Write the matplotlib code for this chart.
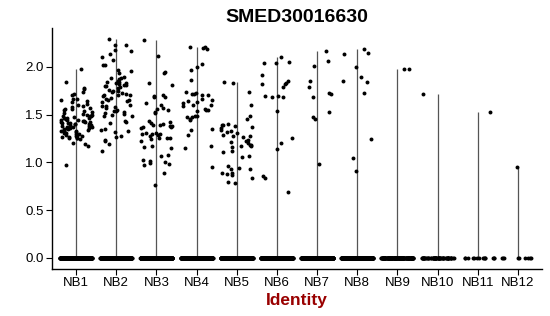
import numpy as np
import matplotlib
matplotlib.use("Agg")
import matplotlib.pyplot as plt

plt.rcParams['font.family'] = ['Liberation Sans', 'DejaVu Sans']

title = "SMED30016630"
categories = ["NB1", "NB2", "NB3", "NB4", "NB5", "NB6", "NB7", "NB8", "NB9", "NB10", "NB11", "NB12"]
yticks = [0.0, 0.5, 1.0, 1.5, 2.0]

# non-zero expression values per identity
nb1 = [1.98, 1.84, 1.78, 1.77, 1.74, 1.72, 1.71, 1.66, 1.65, 1.64, 1.66, 1.63, 1.60, 1.59, 1.58, 1.61,
       1.57, 1.56, 1.55, 1.54, 1.53, 1.56, 1.51, 1.50, 1.49, 1.52, 1.48, 1.50, 1.46, 1.45, 1.44, 1.47,
       1.43, 1.45, 1.46, 1.44, 1.42, 1.41, 1.40, 1.42, 1.39, 1.41, 1.43, 1.40, 1.38, 1.37, 1.36, 1.38,
       1.35, 1.37, 1.36, 1.34, 1.33, 1.32, 1.33, 1.31, 1.34, 1.30, 1.29, 1.28, 1.27, 1.29, 1.26, 1.25,
       1.24, 1.26, 1.20, 1.19, 1.17, 0.97, 1.31, 1.35, 1.39, 1.42, 1.46, 1.48, 1.37, 1.33, 1.28, 1.40,
       1.44, 1.36, 1.30, 1.27, 1.41]
nb2 = [2.29, 2.23, 2.23, 2.18, 2.16, 2.13, 2.10, 2.07, 2.02, 2.02, 1.97, 1.96, 1.94, 1.88, 1.88, 1.87,
       1.89, 1.84, 1.83, 1.85, 1.84, 1.82, 1.83, 1.80, 1.79, 1.81, 1.80, 1.78, 1.81, 1.75, 1.76, 1.74,
       1.75, 1.73, 1.71, 1.70, 1.72, 1.71, 1.69, 1.65, 1.66, 1.64, 1.65, 1.63, 1.67, 1.59, 1.58, 1.60,
       1.59, 1.57, 1.54, 1.55, 1.53, 1.54, 1.52, 1.50, 1.49, 1.51, 1.48, 1.42, 1.41, 1.43, 1.34, 1.33,
       1.35, 1.32, 1.28, 1.27, 1.23, 1.22, 1.19, 1.12]
nb3 = [2.28, 2.11, 1.95, 1.93, 1.83, 1.81, 1.70, 1.69, 1.68, 1.68, 1.62, 1.60, 1.57, 1.56, 1.55, 1.53,
       1.52, 1.43, 1.42, 1.41, 1.40, 1.39, 1.38, 1.37, 1.36, 1.38, 1.39, 1.37, 1.31, 1.30, 1.29, 1.31,
       1.30, 1.28, 1.30, 1.26, 1.25, 1.24, 1.25, 1.22, 1.17, 1.15, 1.16, 1.08, 1.07, 1.01, 1.00, 0.99,
       0.98, 1.03, 0.97, 0.89, 0.76]
nb4 = [2.21, 2.20, 2.19, 2.21, 2.03, 2.00, 1.97, 1.86, 1.74, 1.73, 1.72, 1.72, 1.71, 1.70, 1.66, 1.65,
       1.64, 1.63, 1.62, 1.60, 1.60, 1.59, 1.56, 1.55, 1.54, 1.55, 1.48, 1.47, 1.48, 1.47, 1.45, 1.44,
       1.35, 1.34, 1.29, 1.17, 1.15, 0.95]
nb5 = [1.84, 1.83, 1.74, 1.60, 1.49, 1.45, 1.40, 1.39, 1.38, 1.39, 1.37, 1.36, 1.33, 1.32, 1.34, 1.31,
       1.29, 1.28, 1.27, 1.28, 1.23, 1.22, 1.21, 1.20, 1.18, 1.17, 1.16, 1.18, 1.17, 1.12, 1.11, 1.07,
       1.06, 0.96, 0.94, 0.93, 0.93, 0.89, 0.88, 0.89, 0.87, 0.84, 0.79, 0.78]
nb6 = [2.10, 2.05, 2.04, 2.04, 1.91, 1.85, 1.83, 1.82, 1.82, 1.79, 1.69, 1.69, 1.68, 1.68, 1.54, 1.26,
       1.20, 1.14, 0.86, 0.84, 0.69]
nb7 = [2.17, 2.06, 2.01, 1.85, 1.79, 1.73, 1.72, 1.68, 1.53, 1.47, 1.45, 0.98]
nb8 = [2.19, 2.14, 2.13, 2.00, 1.89, 1.85, 1.84, 1.73, 1.24, 1.05, 0.91]
nb9 = [1.98, 1.98]
nb10 = [1.72]
nb11 = [1.53]
nb12 = [0.95]
nonzero_values = [nb1, nb2, nb3, nb4, nb5, nb6, nb7, nb8, nb9, nb10, nb11, nb12]
# number of cells with zero expression per identity
zero_counts = [300, 300, 300, 300, 300, 300, 300, 300, 150, 60, 14, 9]

fig = plt.figure(figsize=(5.5, 3.16), dpi=100)
ax = fig.add_axes([0.0945, 0.149, 0.891, 0.762])

rng = np.random.default_rng(7)
for i, (vals, nz) in enumerate(zip(nonzero_values, zero_counts)):
    pos = i + 1
    y = np.concatenate([np.zeros(nz), np.array(vals, dtype=float)])
    ax.vlines(pos, 0, y.max(), color='#555555', linewidth=0.9, zorder=1)
    x = pos + rng.uniform(-0.4, 0.4, size=len(y))
    ax.scatter(x, y, s=8, color='black', linewidths=0, zorder=2)

ax.set_xlim(0.4, 12.6)
ax.set_ylim(-0.1145, 2.4045)
ax.set_xticks(range(1, len(categories) + 1))
ax.set_xticklabels(categories, fontsize=9.5, color='black')
ax.set_yticks(yticks)
ax.set_yticklabels([f"{t:.1f}" for t in yticks], fontsize=9.5, color='black')
ax.tick_params(axis='both', length=4, width=0.8, color='black', pad=2)
for s in ['top', 'right']:
    ax.spines[s].set_visible(False)
for s in ['left', 'bottom']:
    ax.spines[s].set_linewidth(1.0)
    ax.spines[s].set_color('black')

ax.set_xlabel("Identity", fontsize=12.5, fontweight='bold', color='#990000', labelpad=3)
fig.text(0.54, 0.945, title, ha='center', va='center', fontsize=14, fontweight='bold')

fig.savefig("out.png", dpi=100)
